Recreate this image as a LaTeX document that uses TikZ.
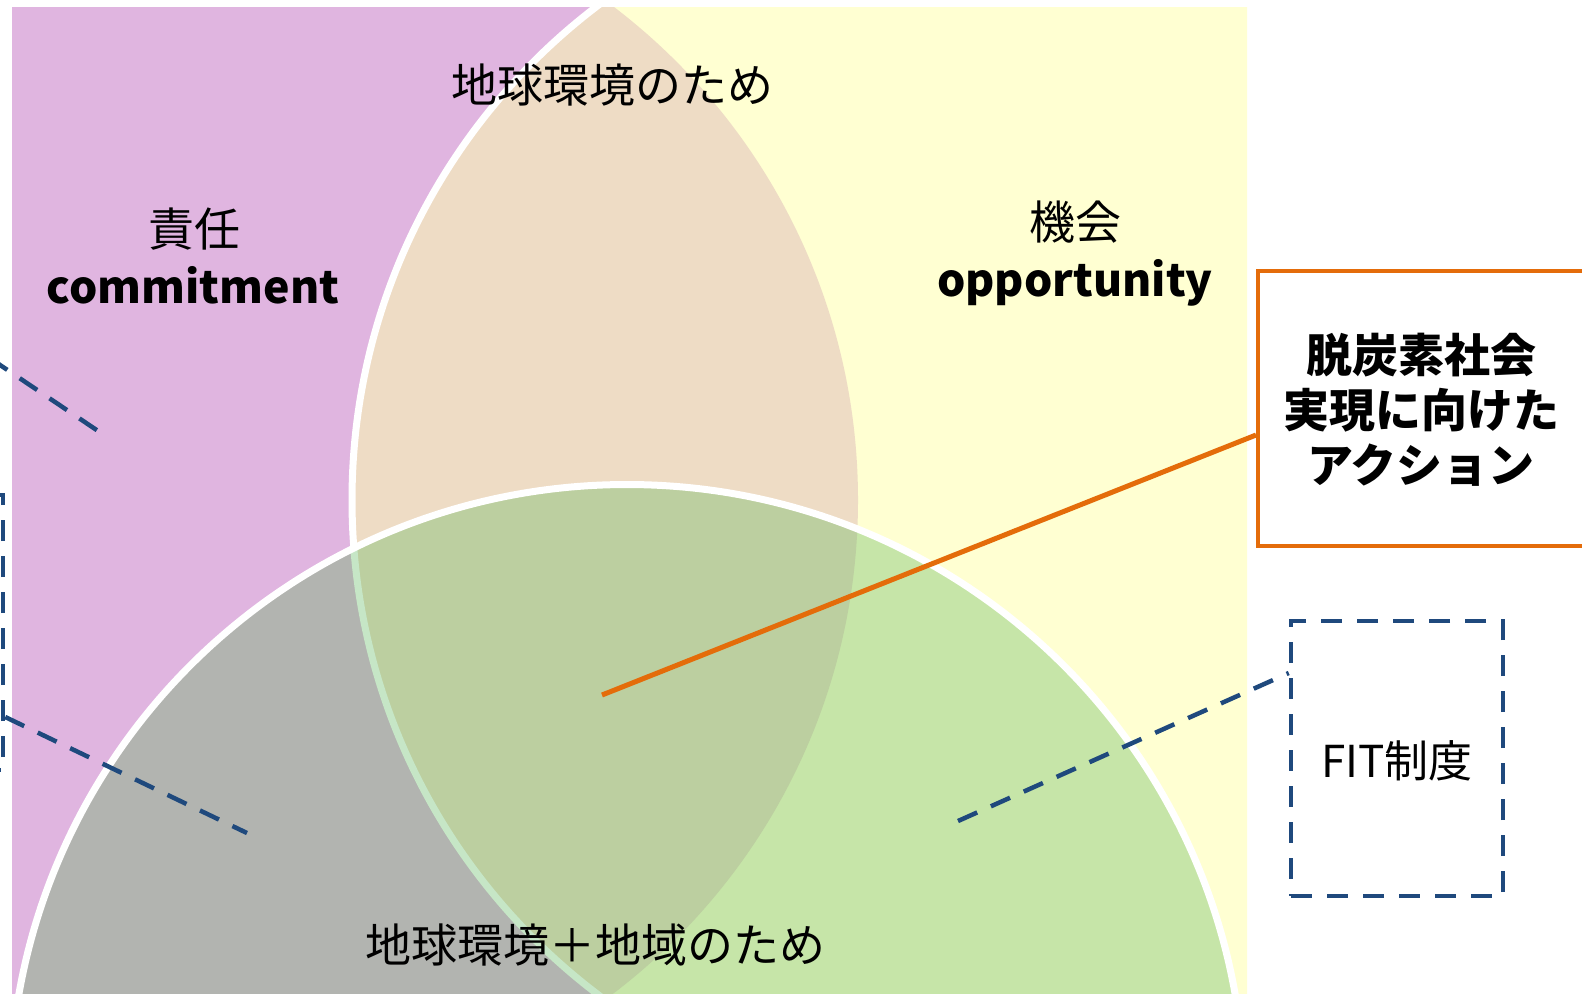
\documentclass[tikz,border=0pt]{standalone}
\usepackage{fontspec}
\setmainfont{Noto Sans CJK JP}
\definecolor{vpurple}{RGB}{224,181,224}
\definecolor{vyellow}{RGB}{255,255,210}
\definecolor{vpeach}{RGB}{238,220,197}
\definecolor{vgray}{RGB}{178,180,176}
\definecolor{vgreen}{RGB}{198,229,168}
\definecolor{vlens}{RGB}{188,207,160}
\definecolor{vpale}{RGB}{198,230,198}
\definecolor{dblue}{RGB}{31,73,125}
\definecolor{orng}{RGB}{228,108,10}
\begin{document}
\begin{tikzpicture}[x=0.5pt,y=-0.5pt,
  lbl/.style={font=\fontsize{23pt}{27.5pt}\selectfont, inner sep=0pt, align=center},
  lat/.style={font=\bfseries\fontsize{22.3pt}{26pt}\selectfont, inner sep=0pt},
  dashline/.style={draw=dblue, line width=2.25pt, dash pattern=on 10.5pt off 7.5pt},
  dashbox/.style={dashline, inner sep=0pt, minimum height=137.5pt},
  actbox/.style={draw=orng, line width=2pt, inner sep=0pt, minimum width=163pt, minimum height=137.5pt},
  venn/.style={radius=310pt},
  bottomc/.style={radius=308.75pt}]
\useasboundingbox (0,0) rectangle (1582,993);
% Venn regions, cropped
\begin{scope}
  \clip (12,7) rectangle (1247,993);
  \fill[vpurple] (238,500) circle[venn];
  \fill[vyellow] (972,500) circle[venn];
  \begin{scope}
    \clip (238,500) circle[venn];
    \fill[vpeach] (972,500) circle[venn];
  \end{scope}
  \draw[white, line width=3.5pt] (972,500) circle[venn];
  \begin{scope}
    \clip (627,1102) circle[bottomc];
    \fill[vgray] (627,1102) circle[bottomc];
    \begin{scope}
      \clip (972,500) circle[venn];
      \fill[vgreen] (627,1102) circle[bottomc];
      \clip (238,500) circle[venn];
      \fill[vlens] (627,1102) circle[bottomc];
    \end{scope}
    \draw[vpale, line width=3.5pt] (972,500) circle[venn];
  \end{scope}
  \draw[white, line width=3.5pt] (627,1102) circle[bottomc];
\end{scope}
% labels
\node[lbl] (earth) at (612,85) {地球環境のため};
\node[lbl] (resp) at (194,229) {責任};
\node[lat, anchor=base] (commit) at (193,303) {commitment};
\node[lbl] (chance) at (1075,222) {機会};
\node[lat, anchor=base] (oppo) at (1075,296) {opportunity};
\node[lbl] (region) at (595,945) {地球環境＋地域のため};
% action box
\node[actbox, fill=white] (act) at (1421,408.5) {};
\node[lbl, font=\bfseries\fontsize{23pt}{27.5pt}\selectfont] (acttext) at (1421,410) {脱炭素社会\\実現に向けた\\アクション};
\coordinate (actend) at (602,695);
\draw[orng, line width=2.5pt] ([yshift=-13.25pt]act.west) -- (actend);
% FIT box
\node[dashbox, minimum width=106pt] (fit) at (1397,758.5) {};
\node[lbl, font=\fontsize{22pt}{26pt}\selectfont] (fittext) at (1397,761) {FIT制度};
\coordinate (fitend) at (958,821);
\draw[dashline] (fitend) -- ([yshift=42.75pt]fit.west);
% left box (mostly outside the picture)
\node[dashbox, minimum width=101.5pt] (lbox) at (-98.5,632.5) {};
\coordinate (lend) at (247,833);
\draw[dashline] ([yshift=-42.25pt]lbox.east) -- (lend);
% upper-left connector from outside
\coordinate (ulfree) at (-40,338);
\coordinate (ulend) at (107,437);
\draw[dashline] (ulfree) -- (ulend);
\end{tikzpicture}
\end{document}
